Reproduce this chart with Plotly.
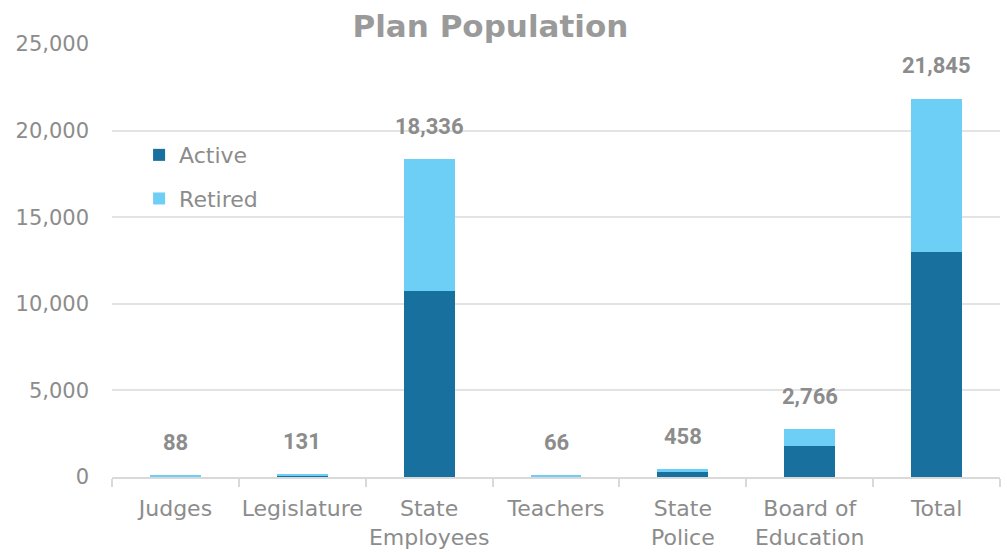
import plotly.graph_objects as go

# Plan population by plan, split into active and retired members
categories = ["Judges", "Legislature", "State<br>Employees", "Teachers",
              "State<br>Police", "Board of<br>Education", "Total"]
active = [38, 96, 10750, 22, 290, 1800, 12996]
retired = [50, 35, 7586, 44, 168, 966, 8849]
totals = [a + r for a, r in zip(active, retired)]

ACTIVE_COLOR = "#17709d"
RETIRED_COLOR = "#6dcff6"
TEXT_GRAY = "#8c8c8c"
GRID_GRAY = "#e3e3e3"
FONT = "DejaVu Sans, Liberation Sans, Arial, sans-serif"
NUM_FONT = "Roboto, Liberation Sans, Arial, sans-serif"

fig = go.Figure()
fig.add_trace(go.Bar(x=categories, y=active, name="Active",
                     marker=dict(color=ACTIVE_COLOR, line=dict(width=0)),
                     legendgroup="a"))
fig.add_trace(go.Bar(x=categories, y=retired, name="Retired",
                     marker=dict(color=RETIRED_COLOR, line=dict(width=0)),
                     legendgroup="r"))

# total labels above each stack
for cat, tot in zip(categories, totals):
    fig.add_annotation(x=cat, y=tot, text=f"<b>{tot:,}</b>", showarrow=False,
                       yanchor="middle", yshift=33,
                       font=dict(family=NUM_FONT, size=22, color=TEXT_GRAY))

fig.update_layout(
    width=1007, height=552,
    margin=dict(l=112, r=7, t=44, b=75, autoexpand=False),
    paper_bgcolor="white", plot_bgcolor="white",
    barmode="stack", bargap=0.6,
    font=dict(family=FONT, size=21, color=TEXT_GRAY),
    title=dict(text="<b>Plan Population</b>", x=0.487, xanchor="center",
               y=0.953, yanchor="middle",
               font=dict(family=FONT, size=31, color="#9a9a9a")),
    legend=dict(x=0.0305, y=0.792, xanchor="left", yanchor="top",
                traceorder="grouped", tracegroupgap=12,
                bgcolor="rgba(0,0,0,0)",
                font=dict(family=FONT, size=22, color=TEXT_GRAY),
                itemwidth=30),
    showlegend=True,
)
fig.update_xaxes(showline=True, linecolor="#d9d9d9", linewidth=1.5,
                 ticks="outside", tickson="boundaries", ticklen=8,
                 tickcolor="#d9d9d9", tickwidth=1.5, ticklabelstandoff=11,
                 tickangle=0, automargin=False,
                 tickfont=dict(family=FONT, size=22, color=TEXT_GRAY),
                 showgrid=False)
fig.update_yaxes(range=[0, 25000], dtick=5000, tickformat=",d",
                 showgrid=True, gridcolor=GRID_GRAY, gridwidth=1.5,
                 zeroline=False, showline=False, ticklabelstandoff=22,
                 automargin=False,
                 tickfont=dict(family=FONT, size=21, color=TEXT_GRAY))

fig.write_html("out.html")
